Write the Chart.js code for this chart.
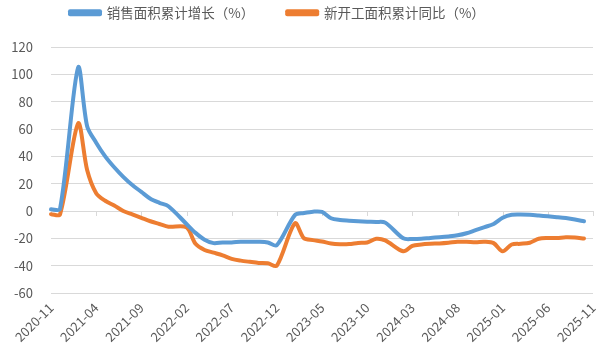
<!DOCTYPE html>
<html>
<head>
<meta charset="utf-8">
<script src="https://cdn.jsdelivr.net/npm/chart.js@4/dist/chart.umd.min.js"></script>
<style>
  html, body { margin: 0; padding: 0; background: #fff; }
  #wrap { width: 600px; height: 361px; }
</style>
</head>
<body>
<div id="wrap"><canvas id="chart"></canvas></div>
<script>
// months 2020-11 .. 2025-11 (January has no separate release)
const months = [
  '2020-11', '2020-12',
  '2021-01', '2021-02', '2021-03', '2021-04', '2021-05', '2021-06', '2021-07', '2021-08', '2021-09', '2021-10', '2021-11', '2021-12',
  '2022-01', '2022-02', '2022-03', '2022-04', '2022-05', '2022-06', '2022-07', '2022-08', '2022-09', '2022-10', '2022-11', '2022-12',
  '2023-01', '2023-02', '2023-03', '2023-04', '2023-05', '2023-06', '2023-07', '2023-08', '2023-09', '2023-10', '2023-11', '2023-12',
  '2024-01', '2024-02', '2024-03', '2024-04', '2024-05', '2024-06', '2024-07', '2024-08', '2024-09', '2024-10', '2024-11', '2024-12',
  '2025-01', '2025-02', '2025-03', '2025-04', '2025-05', '2025-06', '2025-07', '2025-08', '2025-09', '2025-10', '2025-11'
];

const salesGrowth = [
  1.2, 1.5,
  null, 105, 62, 50, 40, 32, 25, 19, 14, 9, 6, 3.5,
  null, -9.5, -16, -21, -23.5, -23, -23, -22.5, -22.5, -22.5, -23, -25,
  null, -3, -1.5, -0.5, -0.7, -5.3, -6.6, -7.1, -7.5, -7.8, -8, -8.5,
  null, -20, -20.5, -20.3, -19.7, -19.2, -18.6, -17.8, -16.3, -14, -11.8, -9.5,
  -5, -2.8, -2.6, -2.8, -3.3, -3.9, -4.5, -5.2, -6.2, -7.5, null
];

const newStartsGrowth = [
  -2.3, -2.5,
  null, 64, 30, 13, 7.5, 4, 0, -2.5, -5, -7.5, -9.5, -11.5,
  null, -12, -24, -28.5, -30.5, -32.5, -35, -36.3, -37.2, -38, -38.3, -40,
  null, -9, -20, -21.3, -22.3, -23.8, -24.3, -24.2, -23.4, -23, -20.3, -21.5,
  null, -29.5, -25.5, -24.5, -24, -23.7, -23.2, -22.5, -22.5, -22.8, -22.5, -23.5,
  -29.5, -24.5, -24, -23.2, -20.3, -19.8, -19.8, -19.2, -19.4, -20.2, null
];

const seriesNames = ['销售面积累计增长（%）', '新开工面积累计同比（%）'];
const yTicks = { min: -60, max: 120, step: 20 };
const labelEvery = 5;

const FONT = '"Noto Sans CJK SC", "Noto Sans", sans-serif';
const TEXT = '#595959';
const GRID = '#d9d9d9';

// legend: wide gap between the two entries, drawn near the top
const legendPlacement = {
  id: 'legendPlacement',
  afterInit(chart) {
    const legend = chart.legend;
    const fit = legend.fit;
    legend.fit = function () {
      fit.call(this);
      this.height = 47;
    };
  },
  afterLayout(chart) {
    const legend = chart.legend;
    const pad = legend.options.labels.padding;
    legend.left = 70 - pad;
    legend.top = 6 - pad;
  }
};

// little tick marks under the zero line, one per shown label
const zeroTicks = {
  id: 'zeroTicks',
  beforeDatasetsDraw(chart) {
    const {ctx, scales: {x, y}} = chart;
    const y0 = y.getPixelForValue(0);
    ctx.save();
    ctx.strokeStyle = GRID;
    ctx.lineWidth = 1;
    ctx.beginPath();
    months.forEach((m, i) => {
      if (i % labelEvery !== 0) return;
      const px = Math.round(x.getPixelForValue(i)) + 0.5;
      ctx.moveTo(px, y0);
      ctx.lineTo(px, y0 + 5);
    });
    ctx.stroke();
    ctx.restore();
  }
};

new Chart(document.getElementById('chart'), {
  type: 'line',
  data: {
    labels: months,
    datasets: [
      {
        label: seriesNames[0],
        data: salesGrowth,
        borderColor: '#5B9BD5',
        backgroundColor: '#5B9BD5'
      },
      {
        label: seriesNames[1],
        data: newStartsGrowth,
        borderColor: '#ED7D31',
        backgroundColor: '#ED7D31'
      }
    ]
  },
  options: {
    responsive: true,
    maintainAspectRatio: false,
    animation: false,
    spanGaps: true,
    layout: { padding: { left: 0, right: 0, top: 0, bottom: 0 } },
    elements: {
      point: { radius: 0 },
      line: { borderWidth: 4, tension: 0.3, borderCapStyle: 'round', borderJoinStyle: 'round' }
    },
    plugins: {
      legend: {
        position: 'top',
        align: 'start',
        labels: {
          font: { family: FONT, size: 13.5 },
          color: TEXT,
          boxWidth: 30,
          boxHeight: 3,
          padding: 33
        }
      },
      tooltip: { enabled: false }
    },
    scales: {
      x: {
        grid: { display: false, drawTicks: false },
        border: { display: false },
        ticks: {
          autoSkip: false,
          minRotation: 45,
          maxRotation: 45,
          padding: 7,
          color: TEXT,
          font: { family: FONT, size: 13 },
          callback: (value, index) => (index % labelEvery === 0 ? months[index] : null)
        },
        afterFit(scale) {
          scale.height = 68;
          scale.paddingLeft = 0;
          scale.paddingRight = 7;
        }
      },
      y: {
        min: yTicks.min,
        max: yTicks.max,
        grid: { color: GRID, drawTicks: false },
        border: { display: false },
        ticks: {
          stepSize: yTicks.step,
          padding: 18,
          color: TEXT,
          font: { family: FONT, size: 13 }
        },
        afterFit(scale) {
          scale.width = 51;
        }
      }
    }
  },
  plugins: [legendPlacement, zeroTicks]
});
</script>
</body>
</html>
